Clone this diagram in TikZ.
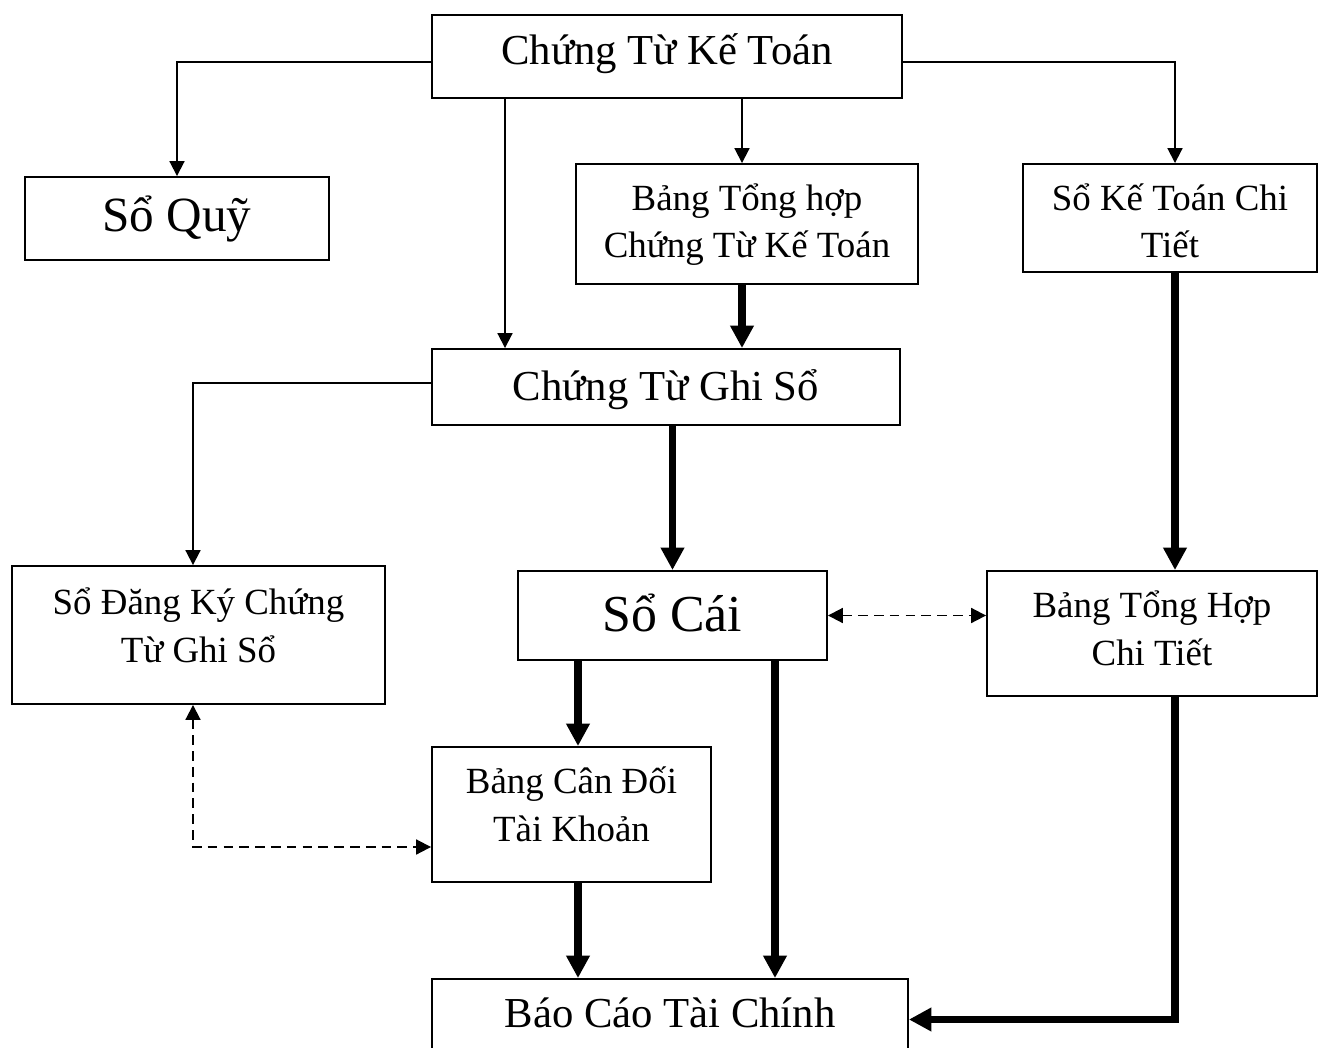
\documentclass[tikz,border=0pt]{standalone}
\usepackage{fontspec}
\setmainfont{Liberation Serif}
\usetikzlibrary{arrows.meta}

\tikzset{
  box/.style={draw,line width=1.1pt,inner xsep=0pt,inner ysep=0pt,align=center},
  bigtext/.style={font=\fontsize{24.3pt}{29pt}\selectfont},
  hugetext/.style={font=\fontsize{28pt}{33pt}\selectfont},
  smalltext/.style={font=\fontsize{21pt}{27.3pt}\selectfont},
  thinarrow/.style={line width=1.1pt,-{Triangle[length=8.5pt,width=8.5pt]}},
  thickarrow/.style={line width=4pt,-{Triangle[length=12.8pt,width=12.8pt]}},
  dasharrow/.style={line width=1.1pt,dash pattern=on 5.5pt off 3.5pt,{Triangle[length=8.5pt,width=8.5pt]}-{Triangle[length=8.5pt,width=8.5pt]}}
}

\begin{document}
\begin{tikzpicture}[x=0.02cm,y=-0.02cm]
\useasboundingbox (0,0) rectangle (1319,1048);

\clip (0,0) rectangle (1319,1048);

\node[box,bigtext,minimum width=9.4cm,text height=1cm,text depth=0.66cm] (CTKT) at (667,56.5) {Chứng Từ Kế Toán};

\node[box,hugetext,minimum width=6.08cm,text height=1.08cm,text depth=0.58cm] (SQ) at (177,218.5) {Sổ Quỹ};

\node[box,smalltext,minimum width=6.84cm,text height=1.88cm,text depth=0.52cm] (BTH) at (747,224) {Bảng Tổng hợp\\Chứng Từ Kế Toán};

\node[box,smalltext,minimum width=5.88cm,text height=1.88cm,text depth=0.28cm] (SKTCT) at (1170,218) {Sổ Kế Toán Chi\\Tiết};

\node[box,bigtext,minimum width=9.36cm,text height=1.02cm,text depth=0.5cm] (CTGS) at (666,387) {Chứng Từ Ghi Sổ};

\node[box,smalltext,minimum width=7.46cm,text height=1.92cm,text depth=0.84cm] (SDK) at (198.5,635) {Sổ Đăng Ký Chứng\\Từ Ghi Sổ};

\node[box,font=\fontsize{29.5pt}{35pt}\selectfont,minimum width=6.18cm,text height=1.2cm,text depth=0.58cm] (SC) at (672.5,615.5) {Sổ Cái};

\node[box,smalltext,minimum width=6.6cm,text height=1.88cm,text depth=0.62cm] (BTHCT) at (1152,633.5) {Bảng Tổng Hợp\\Chi Tiết};

\node[box,smalltext,minimum width=5.58cm,text height=1.88cm,text depth=0.82cm] (BCDTK) at (571.5,814.5) {Bảng Cân Đối\\Tài Khoản};

\node[box,bigtext,minimum width=9.52cm,text height=0.96cm,text depth=0.66cm] (BCTC) at (670,1019.5) {Báo Cáo Tài Chính};

\coordinate (L1) at (505,0);

\coordinate (L2) at (742,0);

\coordinate (L3) at (1175,0);

\coordinate (L4) at (578,0);

\coordinate (L5) at (775,0);

\coordinate (L6) at (193,0);

\coordinate (R1) at (0,62);

\coordinate (R2) at (0,383);

\coordinate (R3) at (0,847);

\draw[thinarrow] (CTKT.west |- R1) -| (SQ.north);

\draw[thinarrow] (CTKT.east |- R1) -| (L3 |- SKTCT.north);

\draw[thinarrow] (L1 |- CTKT.south) -- (L1 |- CTGS.north);

\draw[thinarrow] (L2 |- CTKT.south) -- (L2 |- BTH.north);

\draw[thickarrow] (L2 |- BTH.south) -- (L2 |- CTGS.north);

\draw[thinarrow] (CTGS.west |- R2) -| (L6 |- SDK.north);

\draw[thickarrow] (SC.north |- CTGS.south) -- (SC.north);

\draw[thickarrow] (L3 |- SKTCT.south) -- (L3 |- BTHCT.north);

\draw[dasharrow] (SC.east) -- (SC.east -| BTHCT.west);

\draw[thickarrow] (L4 |- SC.south) -- (L4 |- BCDTK.north);

\draw[thickarrow] (L5 |- SC.south) -- (L5 |- BCTC.north);

\draw[thickarrow] (L4 |- BCDTK.south) -- (L4 |- BCTC.north);

\draw[thickarrow] (L3 |- BTHCT.south) |- (BCTC.east);

\draw[dasharrow] (L6 |- SDK.south) |- (BCDTK.west |- R3);

\end{tikzpicture}
\end{document}
